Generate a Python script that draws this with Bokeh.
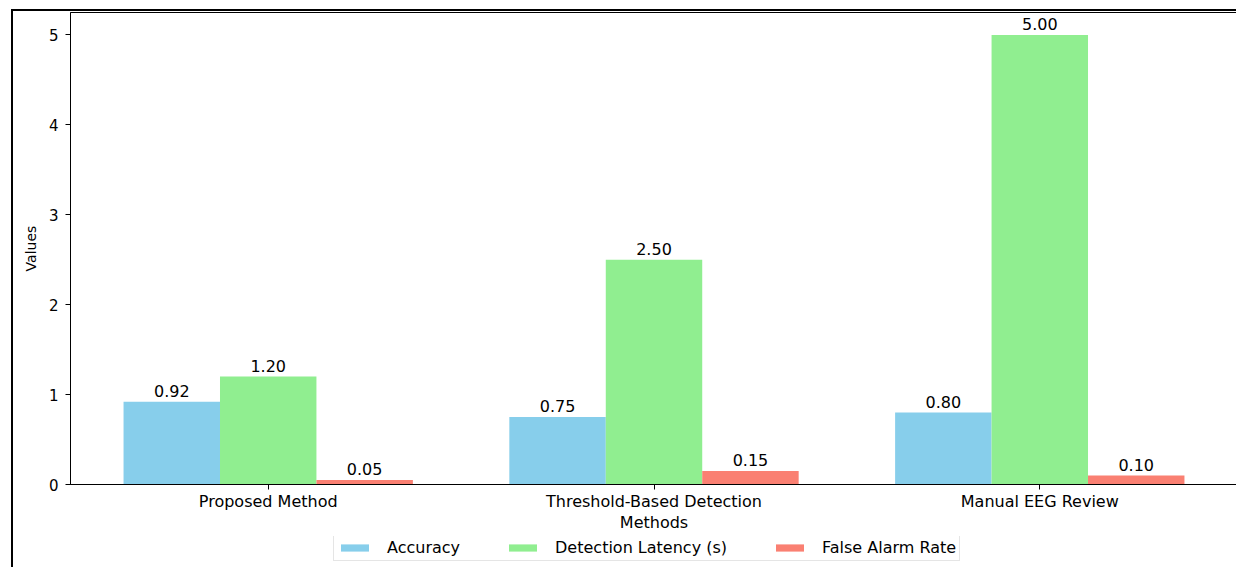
from bokeh.plotting import figure
from bokeh.layouts import column
from bokeh.models import (Range1d, FixedTicker, Legend, LegendItem, ColumnDataSource,
                          LabelSet)
from bokeh.core.properties import value
from bokeh.embed import file_html
from bokeh.resources import INLINE

# Comparison data
methods = ["Proposed Method", "Threshold-Based Detection", "Manual EEG Review"]
accuracy = [0.92, 0.75, 0.80]
latency = [1.20, 2.50, 5.00]
false_alarm = [0.05, 0.15, 0.10]
series_names = ["Accuracy", "Detection Latency (s)", "False Alarm Rate"]
colors = ["#87CEEB", "#90EE90", "#FA8072"]
y_ticks = [0, 1, 2, 3, 4, 5]

bar_w = 0.25
offsets = [-bar_w, 0.0, bar_w]
idx = list(range(len(methods)))

FONT = "DejaVu Sans"
BORDER = "2px solid #000000"

# main bar chart
p = figure(width=1225, height=527, output_backend="svg", toolbar_location=None,
           x_range=Range1d(-0.5125, 2.5125), y_range=Range1d(0, 5.25),
           min_border_left=57, min_border_right=1, min_border_top=1, min_border_bottom=54)
p.margin = (9, 0, 0, 11)
p.styles = {"border-left": BORDER, "border-top": BORDER}

p.xgrid.visible = False
p.ygrid.visible = False
p.outline_line_color = "#000000"
p.outline_line_alpha = 1.0
p.outline_line_width = 1
p.background_fill_color = "white"
p.border_fill_color = "white"

# legend strip underneath the chart
lf = figure(width=1225, height=31, output_backend="svg", toolbar_location=None,
            x_range=Range1d(0, 1), y_range=Range1d(0, 1),
            x_axis_type=None, y_axis_type=None,
            min_border_left=0, min_border_right=0, min_border_top=0, min_border_bottom=0)
lf.margin = (0, 0, 0, 11)
lf.styles = {"border-left": BORDER}
lf.xgrid.visible = False
lf.ygrid.visible = False
lf.outline_line_color = None
lf.background_fill_color = "white"
lf.border_fill_color = "white"

items = []
all_series = [accuracy, latency, false_alarm]
for vals, name, col, off in zip(all_series, series_names, colors, offsets):
    src = ColumnDataSource(dict(
        x=[i + off for i in idx],
        top=vals,
        lab=["{:.2f}".format(v) for v in vals],
    ))
    p.vbar(x="x", top="top", bottom=0, width=bar_w, source=src,
           fill_color=col, line_color=None)
    p.add_layout(LabelSet(x="x", y="top", text="lab", source=src,
                          text_align="center", text_baseline="bottom", y_offset=5,
                          text_font=value(FONT), text_font_size="16px",
                          text_color="#000000"))
    # hidden copy of the series in the strip, used only as the legend key
    key = lf.vbar(x="x", top="top", bottom=0, width=bar_w, source=src,
                  fill_color=col, line_color=None, visible=False)
    items.append(LegendItem(label=name, renderers=[key]))

# x axis
p.xaxis.ticker = FixedTicker(ticks=idx)
p.xaxis.major_label_overrides = {i: m for i, m in zip(idx, methods)}
p.xaxis.axis_label = "Methods"
p.xaxis.minor_tick_line_color = None
p.xaxis.major_tick_out = 5
p.xaxis.major_tick_in = 0
p.xaxis.major_label_standoff = 2
p.xaxis.axis_label_standoff = -1

# y axis
p.yaxis.ticker = FixedTicker(ticks=y_ticks)
p.yaxis.axis_label = "Values"
p.yaxis.minor_tick_line_color = None
p.yaxis.major_tick_out = 5
p.yaxis.major_tick_in = 0
p.yaxis.major_label_standoff = 7
p.yaxis.axis_label_standoff = 7

for ax in (p.xaxis, p.yaxis):
    ax.axis_line_color = "#000000"
    ax.major_tick_line_color = "#000000"
    ax.major_label_text_font = FONT
    ax.major_label_text_color = "#000000"
    ax.axis_label_text_font = FONT
    ax.axis_label_text_font_style = "normal"
    ax.axis_label_text_color = "#000000"
p.xaxis.major_label_text_font_size = "16px"
p.xaxis.axis_label_text_font_size = "16px"
p.yaxis.major_label_text_font_size = "15px"
p.yaxis.axis_label_text_font_size = "14px"

legend = Legend(items=items, orientation="horizontal", location=(263, 6),
                glyph_width=35, glyph_height=9, label_standoff=15, spacing=45,
                padding=3, label_height=10, margin=0,
                label_text_font=FONT, label_text_font_size="16px",
                label_text_color="#000000",
                inactive_fill_alpha=0.0,
                border_line_color="#cccccc", border_line_width=1)
lf.add_layout(legend)

layout = column(p, lf, spacing=0)
open("out.html", "w").write(file_html(layout, INLINE))
